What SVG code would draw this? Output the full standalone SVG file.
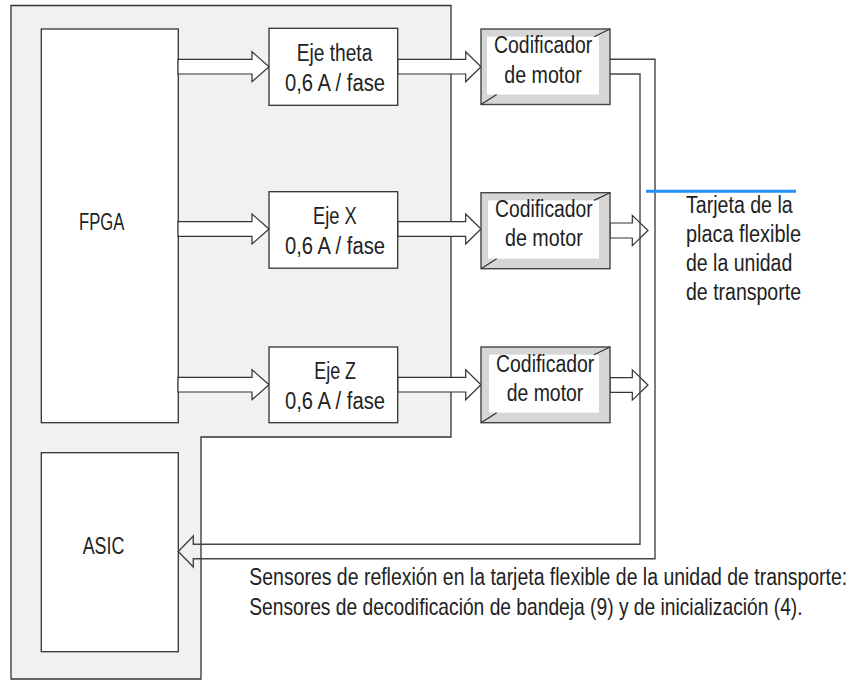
<svg xmlns="http://www.w3.org/2000/svg" width="859" height="680" viewBox="0 0 859 680">
<style>
.box{fill:#fff;stroke:#333;stroke-width:1.3}
.enc{fill:#d6d6d6;stroke:#444;stroke-width:1.4}
.encin{fill:#fff;stroke:none}
.bev{stroke:#333;stroke-width:1.2;fill:none}
.arr{fill:#fff;stroke:#333;stroke-width:1.2;stroke-linejoin:miter}
.con{fill:none;stroke:#444;stroke-width:1.4}
text{font-family:"Liberation Sans",Arial,sans-serif;font-size:23px;fill:#222}
</style>
<rect width="859" height="680" fill="#fff"/>
<g id="board">
<path d="M11,5.5 H451 V437 H201 V679 H11 Z" fill="#f1f1f1" stroke="#333" stroke-width="1.3"/>
</g>
<g id="fpga">
<rect class="box" x="41.3" y="29" width="137" height="393.7"/>
<text x="79" y="230" textLength="45.3" lengthAdjust="spacingAndGlyphs">FPGA</text>
</g>
<g id="asic">
<rect class="box" x="41.3" y="452.7" width="137" height="199"/>
<text x="82.7" y="554.3" textLength="41.7" lengthAdjust="spacingAndGlyphs">ASIC</text>
</g>
<g id="connectors">
<path class="arr" d="M178,59.4 H252 V51.7 L269,66.7 L252,81.7 V74 H178 Z"/>
<path class="arr" d="M178,221.7 H252 V214 L269,229 L252,244 V236.3 H178 Z"/>
<path class="arr" d="M178,377.4 H252 V369.7 L269,384.7 L252,399.7 V392 H178 Z"/>
<path class="arr" d="M397.7,59.4 H465.7 V51.7 L481,66.7 L465.7,81.7 V74 H397.7 Z"/>
<path class="arr" d="M397.7,221.7 H465.7 V214 L481,229 L465.7,244 V236.3 H397.7 Z"/>
<path class="arr" d="M397.7,377.4 H465.7 V369.7 L481,384.7 L465.7,399.7 V392 H397.7 Z"/>
<path class="arr" d="M610,223 H632.3 V215.3 L648,230.5 L632.3,245.7 V238 H610 Z"/>
<path class="arr" d="M610,377.6 H632.3 V369.9 L648,385 L632.3,400.1 V392.4 H610 Z"/>
<path class="con" d="M610,59.3 H655 V558.7 H193.3 V567 L178.3,551.5 L193.3,536 V544.3 H640 V74 H610"/>
<path d="M646,191.3 H796" stroke="#1e8fff" stroke-width="3" fill="none"/>
</g>
<g id="eje-theta">
<rect class="box" x="269" y="28.3" width="128.7" height="77"/>
<text x="296.7" y="60.7" textLength="75.6" lengthAdjust="spacingAndGlyphs">Eje theta</text>
<text x="285" y="90.7" textLength="100" lengthAdjust="spacingAndGlyphs">0,6 A / fase</text>
</g>
<g id="eje-x">
<rect class="box" x="269" y="191.7" width="128.7" height="76.5"/>
<text x="313" y="224" textLength="43.7" lengthAdjust="spacingAndGlyphs">Eje X</text>
<text x="285" y="254" textLength="100" lengthAdjust="spacingAndGlyphs">0,6 A / fase</text>
</g>
<g id="eje-z">
<rect class="box" x="269" y="347" width="128.7" height="75.7"/>
<text x="314.3" y="379" textLength="41.7" lengthAdjust="spacingAndGlyphs">Eje Z</text>
<text x="285" y="409" textLength="100" lengthAdjust="spacingAndGlyphs">0,6 A / fase</text>
</g>
<g id="codificador-1">
<rect class="enc" x="481" y="29" width="129" height="75.5"/>
<rect class="encin" x="487" y="36.7" width="112" height="57.8"/>
<path class="bev" d="M610,29 L594,36.7 M481,104.5 L496.7,94.5"/>
<text x="494" y="53.3" textLength="98.3" lengthAdjust="spacingAndGlyphs">Codificador</text>
<text x="504.3" y="82.7" textLength="77.4" lengthAdjust="spacingAndGlyphs">de motor</text>
</g>
<g id="codificador-2">
<rect class="enc" x="481" y="192.7" width="129" height="76"/>
<rect class="encin" x="488" y="200.4" width="111" height="58.3"/>
<path class="bev" d="M610,192.7 L594,200.4 M481,268.7 L496.7,258.7"/>
<text x="495" y="217" textLength="97.7" lengthAdjust="spacingAndGlyphs">Codificador</text>
<text x="505" y="246.4" textLength="77.7" lengthAdjust="spacingAndGlyphs">de motor</text>
</g>
<g id="codificador-3">
<rect class="enc" x="481" y="347" width="129" height="75.7"/>
<rect class="encin" x="489" y="354.7" width="110" height="58"/>
<path class="bev" d="M610,347 L594,354.7 M481,422.7 L496.7,412.7"/>
<text x="496" y="371.5" textLength="98.3" lengthAdjust="spacingAndGlyphs">Codificador</text>
<text x="506.7" y="401" textLength="76.6" lengthAdjust="spacingAndGlyphs">de motor</text>
</g>
<g id="label-tarjeta">
<text x="686" y="212.5" textLength="106.7" lengthAdjust="spacingAndGlyphs">Tarjeta de la</text>
<text x="686" y="241.5" textLength="115" lengthAdjust="spacingAndGlyphs">placa flexible</text>
<text x="686" y="270.5" textLength="106.3" lengthAdjust="spacingAndGlyphs">de la unidad</text>
<text x="686" y="300" textLength="115" lengthAdjust="spacingAndGlyphs">de transporte</text>
</g>
<g id="label-sensores">
<text transform="translate(249.3,585) scale(0.8458,1)" x="0" y="0">Sensores de reflexión en la tarjeta flexible de la unidad de transporte:</text>
<text transform="translate(249.3,615) scale(0.8357,1)" x="0" y="0">Sensores de decodificación de bandeja (9) y de inicialización (4).</text>
</g>
</svg>
